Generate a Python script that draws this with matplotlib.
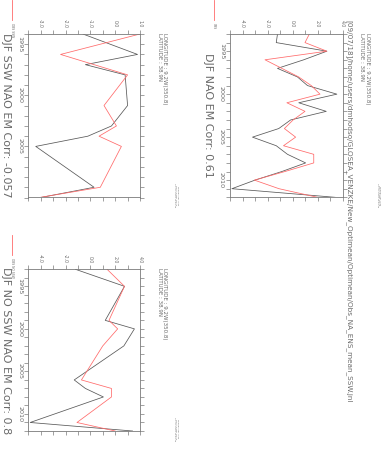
import matplotlib
matplotlib.use("Agg")
import matplotlib.pyplot as plt
from matplotlib.lines import Line2D
from matplotlib.ticker import MultipleLocator, FixedLocator, FormatStrFormatter

# DJF NAO index, ensemble mean (EM) and observations (OBS)
years = list(range(1993, 2013))
em_nao = [-1.2, -1.3, 2.75, 0.9, -1.2, 0.4, 1.2, 3.55, 0.5, 2.7,
          -0.15, -1.1, -3.2, -1.3, -0.4, 1.05, -0.85, -3.0, -4.85, 3.4]
obs_nao = [1.35, 1.0, 2.75, -2.2, -0.85, 0.5, 1.5, 2.2, -0.45, 1.0,
           0.05, -0.65, 0.25, -0.72, 1.7, 1.7, -0.6, -3.05, -1.08, 2.0]
ssw_years = [1994, 1996, 1997, 1998, 2001, 2003, 2004, 2005, 2009, 2010]

titles = ["DJF NAO EM Corr: 0.61", "DJF SSW NAO EM Corr: -0.057",
          "DJF NO SSW NAO EM Corr: 0.8"]
legend_labels = ["OBS", "OBS SSW", "OBS NO SSW"]
path_title = "[09/07/18]/home/users/dmhodso/GLOSEA_VENZKE/New_Optimean/Optimean/Obs_NA_ENS_mean_SSW.jnl"
lon_text = "LONGITUDE : 9.2W(350.8)"
lat_text = "LATITUDE : 38.9N"
stamp = "FERRET Ver. 6.82\nNOAA/PMEL TMAP\n09-JUL-2018 12:59:25"

W, H = 382, 449
TEXT = "#6a6a6a"
AXC = "#7a7a7a"
EMC = "#585858"
OBSC = "#ff6a6a"

fig = plt.figure(figsize=(W / 100, H / 100), dpi=100)


def ftext(x, y, s, size, **kw):
    kw.setdefault("ha", "center")
    kw.setdefault("va", "center")
    fig.text(x / W, 1 - y / H, s, rotation=270, fontsize=size, color=TEXT, **kw)


def panel(box, yrs, em, obs, xlim, xmajor, xminor):
    x0, y0, x1, y1 = box
    ax = fig.add_axes([x0 / W, 1 - y1 / H, (x1 - x0) / W, (y1 - y0) / H])
    ax.plot(em, yrs, color=EMC, lw=0.55)
    ax.plot(obs, yrs, color=OBSC, lw=0.55)
    ax.set_xlim(xlim)
    ax.set_ylim(yrs[-1], yrs[0])
    ax.xaxis.set_major_locator(MultipleLocator(xmajor))
    ax.xaxis.set_minor_locator(MultipleLocator(xminor))
    ax.xaxis.set_major_formatter(FormatStrFormatter("%.1f"))
    ax.yaxis.set_major_locator(FixedLocator(
        [y for y in (1995, 2000, 2005, 2010) if yrs[0] < y < yrs[-1]]))
    ax.yaxis.set_minor_locator(MultipleLocator(1))
    ax.tick_params(which="both", direction="out", top=True, bottom=True,
                   left=True, right=True, labeltop=True, labelbottom=False,
                   color=AXC, width=0.5, labelcolor=TEXT, length=3)
    ax.tick_params(axis="x", labelsize=3.3, labelrotation=270, pad=1.5)
    ax.tick_params(axis="y", labelsize=4.6, labelrotation=270, pad=1.5)
    plt.setp(ax.get_yticklabels(), va="center")
    for sp in ax.spines.values():
        sp.set_color(AXC)
        sp.set_linewidth(0.6)
    return ax


is_ssw = [y in ssw_years for y in years]
sets = [
    (years, em_nao, obs_nao),
    ([y for y, s in zip(years, is_ssw) if s],
     [v for v, s in zip(em_nao, is_ssw) if s],
     [v for v, s in zip(obs_nao, is_ssw) if s]),
    ([y for y, s in zip(years, is_ssw) if not s],
     [v for v, s in zip(em_nao, is_ssw) if not s],
     [v for v, s in zip(obs_nao, is_ssw) if not s]),
]

boxes = [(230, 34, 342.5, 197.3), (28.3, 34, 140, 197.5), (28.3, 269.3, 140, 431)]
xlims = [(-5, 4), (-3.5, 1.0), (-5, 4)]
steps = [(2, 1), (1, 0.5), (2, 1)]

for i in range(3):
    yrs, em, obs = sets[i]
    panel(boxes[i], yrs, em, obs, xlims[i], *steps[i])
    x0, y0, x1, y1 = boxes[i]
    # panel title, left of the year labels
    ftext(x0 - 22, (y0 + y1) / 2, titles[i], 8)
    # location info, right of the panel
    ftext(x1 + 25, y0 - 1, lon_text, 4, va="top")
    ftext(x1 + 19, y0 - 1, lat_text, 4, va="top")
    # ferret stamp
    ftext(x1 + 36, y1 - 2, stamp, 1.6, va="center", linespacing=1.0)
    # legend: short red line with label
    fig.add_artist(Line2D([(x0 - 16) / W] * 2, [1 - (y0 - 34) / H, 1 - (y0 - 14) / H],
                          color=OBSC, lw=0.6))
    ftext(x0 - 16, y0 - 11, legend_labels[i], 2.2, va="top")

ftext(349, 20, path_title, 5.2, va="top")

fig.savefig("out.png", dpi=100)
